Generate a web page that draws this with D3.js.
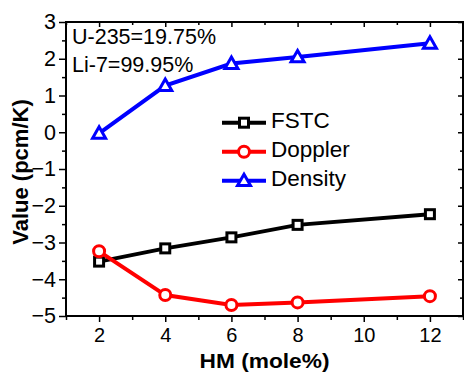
<!DOCTYPE html>
<html><head><meta charset="utf-8">
<script src="https://cdn.jsdelivr.net/npm/d3@7"></script>
<style>body{margin:0;background:#fff}svg{display:block}text{font-family:Arial,"Liberation Sans",sans-serif}</style>
</head><body><svg id="c" width="464" height="373"></svg>
<script>
const hm = [2, 4, 6, 8, 12];
const fstc = [-3.52, -3.16, -2.86, -2.52, -2.23];
const doppler = [-3.24, -4.43, -4.70, -4.63, -4.46];
const density = [-0.03, 1.27, 1.87, 2.05, 2.42];
const xTicks = [2, 4, 6, 8, 10, 12];
const yTicks = [-5, -4, -3, -2, -1, 0, 1, 2, 3];
const seriesNames = ["FSTC", "Doppler", "Density"];
const seriesColors = ["#000000", "#ff0000", "#0000ff"];
const seriesShapes = ["square", "circle", "triangle"];
const annot = ["U-235=19.75%", "Li-7=99.95%"];

const svg = d3.select("#c");
const L = 66, R = 463, T = 22, B = 316;
const x = d3.scaleLinear().domain([1, 13]).range([L, R]);
const y = d3.scaleLinear().domain([-5, 3]).range([B, T]);

const minorX = d3.range(1, 14, 1).filter(v => v % 2 === 1);
const minorY = d3.range(-4.5, 3, 1);
svg.append("g").attr("transform", `translate(0,${B})`)
  .call(d3.axisBottom(x).tickValues(xTicks).tickSize(6).tickPadding(6).tickFormat(d3.format("d")))
  .call(g => g.select(".domain").remove())
  .call(g => g.selectAll("text").attr("font-size", 20));
svg.append("g").attr("transform", `translate(0,${B})`)
  .call(d3.axisBottom(x).tickValues(minorX).tickSize(4).tickFormat(""))
  .call(g => g.select(".domain").remove());
svg.append("g").attr("transform", `translate(${L},0)`)
  .call(d3.axisLeft(y).tickValues(yTicks).tickSize(7).tickPadding(3).tickFormat(d3.format("d")))
  .call(g => g.select(".domain").remove())
  .call(g => g.selectAll("text").attr("font-size", 21.5));
svg.append("g").attr("transform", `translate(${L},0)`)
  .call(d3.axisLeft(y).tickValues(minorY).tickSize(4).tickFormat(""))
  .call(g => g.select(".domain").remove());
// mirror ticks inward
svg.append("g").attr("transform", `translate(0,${T})`)
  .call(d3.axisBottom(x).tickValues(xTicks).tickSize(5).tickFormat(""))
  .call(g => g.select(".domain").remove());
svg.append("g").attr("transform", `translate(0,${T})`)
  .call(d3.axisBottom(x).tickValues(minorX).tickSize(3).tickFormat(""))
  .call(g => g.select(".domain").remove());
svg.append("g").attr("transform", `translate(${R},0)`)
  .call(d3.axisLeft(y).tickValues(yTicks).tickSize(5).tickFormat(""))
  .call(g => g.select(".domain").remove());
svg.append("g").attr("transform", `translate(${R},0)`)
  .call(d3.axisLeft(y).tickValues(minorY).tickSize(3).tickFormat(""))
  .call(g => g.select(".domain").remove());
svg.selectAll(".tick line").attr("stroke", "#000").attr("stroke-width", 1.5);
svg.selectAll(".tick text").attr("fill", "#000").style("font-family", "Arial,'Liberation Sans',sans-serif");
svg.append("rect").attr("x", L).attr("y", T).attr("width", R - L).attr("height", B - T)
  .attr("fill", "none").attr("stroke", "#000").attr("stroke-width", 2);

// labels
svg.append("text").attr("x", (L + R) / 2).attr("y", 367.5).attr("text-anchor", "middle")
  .attr("font-size", 20).attr("font-weight", "bold")
  .attr("textLength", 130).attr("lengthAdjust", "spacingAndGlyphs").text("HM (mole%)");
svg.append("text").attr("transform", `translate(28,${172}) rotate(-90)`).attr("text-anchor", "middle")
  .attr("font-size", 22).attr("font-weight", "bold").text("Value (pcm/K)");

annot.forEach((t, i) => svg.append("text").attr("x", 72).attr("y", 44 + i * 28).attr("font-size", 21.5).text(t));

function marker(g, shape, color, cx, cy) {
  if (shape === "square") {
    g.append("rect").attr("x", cx - 4.5).attr("y", cy - 4.5).attr("width", 9).attr("height", 9)
      .attr("fill", "#fff").attr("stroke", color).attr("stroke-width", 3);
  } else if (shape === "circle") {
    g.append("circle").attr("cx", cx).attr("cy", cy).attr("r", 5.5)
      .attr("fill", "#fff").attr("stroke", color).attr("stroke-width", 3);
  } else {
    const s = 6.5;
    g.append("path").attr("d", `M${cx},${cy - s}L${cx + s},${cy + s * 0.75}L${cx - s},${cy + s * 0.75}Z`)
      .attr("fill", "#fff").attr("stroke", color).attr("stroke-width", 3).attr("stroke-linejoin", "miter");
  }
}

const data = [fstc, doppler, density];
const line = d3.line().x(d => x(d[0])).y(d => y(d[1]));
data.forEach((vals, i) => {
  const pts = hm.map((h, j) => [h, vals[j]]);
  const g = svg.append("g");
  g.append("path").attr("d", line(pts)).attr("fill", "none").attr("stroke", seriesColors[i]).attr("stroke-width", 4);
  pts.forEach(p => marker(g, seriesShapes[i], seriesColors[i], x(p[0]), y(p[1])));
});

// legend
seriesNames.forEach((n, i) => {
  const ly = 122.7 + i * 29;
  const g = svg.append("g");
  g.append("line").attr("x1", 222).attr("x2", 266).attr("y1", ly).attr("y2", ly)
    .attr("stroke", seriesColors[i]).attr("stroke-width", 4);
  marker(g, seriesShapes[i], seriesColors[i], 244, ly);
  g.append("text").attr("x", 271).attr("y", ly + 5.5 + 0.2).attr("font-size", 22.5).text(n);
});
</script></body></html>
